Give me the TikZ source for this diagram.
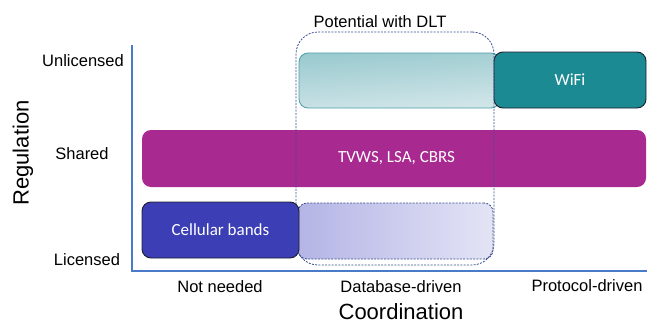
\documentclass[tikz,border=0pt]{standalone}
\usepackage{fontspec}
\setmainfont{Liberation Sans}
\newfontfamily\carlito{Carlito}
\definecolor{axisblue}{HTML}{4A7BC9}
\definecolor{magentabar}{HTML}{A8298F}
\definecolor{wifiteal}{HTML}{1B8A93}
\definecolor{cellblue}{HTML}{3B3EB4}
\definecolor{dashblue}{HTML}{3A4F8F}
\definecolor{tealL}{HTML}{9ACACF}
\definecolor{tealR}{HTML}{D2E6E9}
\definecolor{tealedge}{HTML}{4A9EA8}
\definecolor{blueL}{HTML}{B4B4E6}
\definecolor{blueR}{HTML}{E4E4F6}
\definecolor{darkedge}{HTML}{1E1E2E}
\begin{document}
\begin{tikzpicture}[x=1pt,y=-1pt,
  bar/.style={rectangle, rounded corners=9pt, inner sep=0pt, anchor=center},
  bartext/.style={text=white, font=\carlito\fontsize{17}{20}\selectfont, inner sep=0pt},
  ticklabel/.style={font=\fontsize{16.5}{19}\selectfont, inner sep=0pt},
  axistitle/.style={font=\fontsize{22}{26}\selectfont, inner sep=0pt},
  dashbox/.style={draw=dashblue, line width=0.8pt, dash pattern=on 2pt off 1.3pt}]
\useasboundingbox (0,0) rectangle (647,324);

% axes
\coordinate (ytop) at (132,45);
\coordinate (origin) at (132,271);
\coordinate (xend) at (647,271);
\draw[axisblue, line width=2.4pt] (ytop) -- (origin) -- (xend);

% bars
\node[bar, fill=magentabar, minimum width=504pt, minimum height=57pt] (shared) at (394,158.5) {};
\node[bartext] (sharedtxt) at (396.5,158) {TVWS, LSA, CBRS};

\node[bar, draw=tealedge, line width=0.8pt, top color=tealL, bottom color=tealR, shading angle=4,
      minimum width=201pt, minimum height=55pt] (tealpot) at (399.5,80.5) {};
\node[bar, draw=darkedge, line width=0.9pt, fill=wifiteal,
      minimum width=152pt, minimum height=56pt] (wifi) at (570,80) {};
\node[bartext] at (wifi.center) {WiFi};

\node[bar, dashbox, left color=blueL, right color=blueR,
      minimum width=195pt, minimum height=56pt] (bluepot) at (395.5,231) {};
\node[bar, draw=darkedge, line width=0.9pt, fill=cellblue,
      minimum width=157pt, minimum height=56pt] (cell) at (220.5,230) {};
\node[bartext] at (cell.center) {Cellular bands};

% potential region
\node[rectangle, rounded corners=22pt, dashbox, minimum width=198pt, minimum height=233pt, inner sep=0pt]
  (potential) at (395,148.5) {};
\node[ticklabel] (potlabel) at (380,22) {Potential with DLT};

% axis labels
\node[ticklabel] (unlic) at (83,61) {Unlicensed};
\node[ticklabel] (shr) at (82,154) {Shared};
\node[ticklabel] (lic) at (87,260) {Licensed};
\node[axistitle, rotate=90] (reg) at (23,153) {Regulation};

\node[ticklabel] (notneeded) at (220,287) {Not needed};
\node[ticklabel] (dbdriven) at (401,287) {Database-driven};
\node[ticklabel] (protdriven) at (587,286) {Protocol-driven};
\node[axistitle] (coord) at (401,311.5) {Coordination};
\end{tikzpicture}
\end{document}
